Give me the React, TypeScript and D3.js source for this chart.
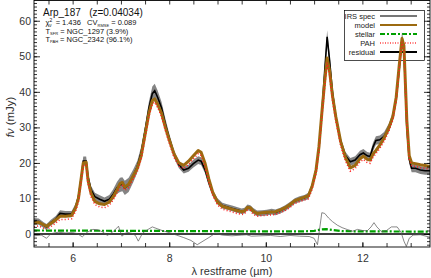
import React, { useEffect, useRef } from 'react';
import * as d3 from 'd3';

// wavelengths (micron) of the IRS spectrum and the model
const wave = [5.2, 5.3, 5.4, 5.46, 5.55, 5.65, 5.74, 5.85, 5.98, 6.06, 6.12, 6.18, 6.22, 6.28, 6.32, 6.38, 6.46, 6.56, 6.66, 6.76,
  6.84, 6.92, 6.98, 7.03, 7.08, 7.16, 7.26, 7.34, 7.42, 7.5, 7.58, 7.65, 7.7, 7.76, 7.84, 7.92, 8.0, 8.1, 8.2, 8.3,
  8.4, 8.5, 8.6, 8.66, 8.74, 8.82, 8.9, 9.0, 9.1, 9.2, 9.3, 9.4, 9.5, 9.56, 9.62, 9.68, 9.74, 9.82, 9.92, 10.02,
  10.12, 10.2, 10.3, 10.4, 10.5, 10.6, 10.7, 10.8, 10.88, 10.96, 11.04, 11.1, 11.16, 11.22, 11.27, 11.32, 11.38, 11.45, 11.55, 11.65,
  11.75, 11.85, 11.95, 12.02, 12.1, 12.16, 12.22, 12.28, 12.36, 12.45, 12.55, 12.63, 12.7, 12.76, 12.82, 12.86, 12.92, 12.97, 13.02, 13.1,
  13.2, 13.3, 13.4];
const irsSpec = [3.6, 3.5, 2.5, 2.0, 3.2, 4.2, 5.8, 5.6, 5.6, 7.5, 10.5, 16, 20.5, 20.5, 16, 12.5, 10.5, 9.8, 9.2, 9.8,
  11.2, 13, 13.8, 14.0, 13.0, 13.8, 16.5, 19, 23, 29, 35.5, 39.5, 40.3, 38.5, 35.5, 31, 27, 22.5, 19.5, 18,
  18.5, 19.8, 20.8, 20.5, 18.2, 14.5, 11.5, 9.2, 8.0, 7.6, 7.2, 6.8, 6.4, 6.6, 7.5, 7.3, 6.5, 5.8, 5.9, 6.0,
  6.3, 6.1, 6.6, 7.3, 8.2, 9.3, 9.8, 10.2, 10.7, 13.5, 18, 24, 34, 46, 55.5, 49, 40, 33, 26, 22,
  20.3, 20.8, 22.3, 22.8, 22.0, 21.8, 24.5, 26.3, 26.5, 27.5, 30.0, 33.0, 38, 46, 55, 52, 30, 21, 18.5, 18.5,
  18.0, 17.8, 17.8];
const irsErr = [0.9, 0.9, 0.8, 0.8, 0.8, 0.9, 0.9, 0.9, 0.9, 1.0, 1.0, 1.2, 1.3, 1.3, 1.2, 1.1, 1.1, 1.1, 1.1, 1.2,
  1.4, 1.7, 2.0, 2.0, 2.0, 2.0, 1.8, 1.6, 1.6, 1.7, 1.8, 2.0, 2.0, 1.9, 1.7, 1.5, 1.3, 1.1, 1.0, 1.0,
  1.0, 1.1, 1.1, 1.1, 1.0, 1.0, 0.9, 0.9, 0.8, 0.8, 0.8, 0.8, 0.8, 0.8, 0.8, 0.8, 0.8, 0.8, 0.8, 0.8,
  0.8, 0.8, 0.8, 0.8, 0.8, 0.8, 0.8, 0.8, 0.9, 0.9, 1.0, 1.1, 1.3, 1.6, 1.8, 1.6, 1.4, 1.2, 1.1, 1.1,
  1.1, 1.1, 1.1, 1.1, 1.1, 1.1, 1.2, 1.2, 1.2, 1.2, 1.2, 1.3, 1.4, 1.6, 1.8, 1.7, 1.3, 1.2, 1.1, 1.1,
  1.1, 1.1, 1.1];
const model = [3.0, 3.3, 2.6, 2.2, 3.0, 4.0, 5.0, 5.0, 5.2, 7.3, 10.0, 16, 20.0, 20.2, 15, 11.5, 9.2, 8.5, 8.3, 9.0,
  10.5, 12.5, 14.2, 14.5, 13.2, 14.0, 16.5, 18.5, 22, 28, 34, 37.5, 38, 36.5, 34, 30, 26.5, 22.5, 20, 19.3,
  20.5, 22, 23.5, 23, 20, 15.5, 11.8, 9.0, 7.8, 7.4, 7.0, 6.6, 6.3, 6.5, 7.5, 7.4, 6.4, 5.8, 6.0, 6.1,
  6.2, 6.3, 6.8, 7.4, 8.3, 9.4, 9.9, 10.4, 10.7, 13.5, 18, 24.5, 34, 43, 49.5, 46, 39, 33, 26, 21.5,
  18.6, 19.3, 21.2, 21.9, 21.0, 20.8, 22.5, 23.5, 25.0, 27.0, 30.0, 33.0, 38.5, 47, 55, 53, 32, 22, 20, 19.8,
  19.5, 19.3, 19.0];
const pah = [2.0, 2.3, 1.6, 1.2, 2.1, 3.1, 4.1, 4.1, 4.3, 6.4, 9.1, 15.1, 19.1, 19.3, 14.1, 10.6, 8.3, 7.6, 7.4, 8.1,
  9.6, 11.6, 13.3, 13.6, 12.3, 13.1, 15.6, 17.6, 21.1, 27.1, 33.1, 36.6, 37.1, 35.6, 33.1, 29.1, 25.6, 21.6, 19.1, 18.4,
  19.6, 21.1, 22.6, 22.1, 19.1, 14.6, 10.9, 8.2, 7.0, 6.6, 6.2, 5.8, 5.5, 5.7, 6.7, 6.6, 5.6, 5.0, 5.2, 5.3,
  5.4, 5.5, 6.0, 6.6, 7.5, 8.6, 9.1, 9.6, 9.9, 12.6, 17.0, 23.4, 32.8, 41.7, 48.2, 44.7, 37.7, 31.8, 24.9, 20.5,
  17.7, 18.4, 20.3, 21.0, 20.1, 19.9, 21.6, 22.6, 24.1, 26.1, 29.1, 32.1, 37.6, 46.1, 54.1, 52.1, 31.1, 21.1, 19.2, 19.0,
  18.7, 18.5, 18.2];

const stelWave = [5.2, 6.0, 7.0, 8.0, 9.0, 10.0, 10.8, 11.0, 11.15, 11.25, 11.4, 11.6, 12.0, 13.0, 13.4];
const stellar = [1.0, 0.95, 0.9, 0.85, 0.8, 0.75, 0.75, 0.9, 1.3, 1.4, 1.1, 0.8, 0.75, 0.7, 0.7];

const resWave = [5.2, 5.35, 5.46, 5.55, 5.7, 5.85, 6.0, 6.1, 6.2, 6.3, 6.42, 6.52, 6.62, 6.72, 6.85, 6.95, 7.02, 7.12, 7.22, 7.3,
  7.36, 7.45, 7.55, 7.65, 7.75, 7.85, 7.95, 8.05, 8.15, 8.3, 8.45, 8.58, 8.7, 8.82, 8.95, 9.1, 9.3, 9.5, 9.6, 9.7,
  9.9, 10.1, 10.3, 10.5, 10.7, 10.9, 11.0, 11.07, 11.12, 11.16, 11.22, 11.3, 11.38, 11.48, 11.58, 11.7, 11.8, 11.9, 12.0, 12.1,
  12.18, 12.24, 12.3, 12.4, 12.5, 12.6, 12.72, 12.8, 12.86, 12.91, 12.97, 13.05, 13.2, 13.4];
const residual = [-0.5, -0.3, -1.2, 0.1, 0.5, 0.3, 0.4, 0.1, -0.8, 0.5, 1.3, 1.2, 0.6, -0.4, 0.8, 2.2, -0.6, 0.5, 0.2, -0.4,
  -2.0, 0.3, 1.2, 2.0, 1.5, 1.0, 0.6, 0.2, -0.3, -1.0, -1.8, -3.0, -2.0, -1.0, 0.2, -0.3, -0.5, -0.3, -0.2, -0.6,
  -0.5, -0.4, -0.7, -0.4, -0.6, -0.7, -1.2, -3.0, 2.0, 6.0, 5.8, 4.5, 3.5, 2.5, 1.8, 1.2, 0.8, 1.3, 1.0, 0.9,
  2.0, 3.2, 2.0, 0.6, 1.0, 2.0, 2.0, 0.5, -2.0, -3.5, -1.2, -0.3, -0.2, -0.9];

const xMajor = [6, 8, 10, 12];
const xMinor = d3.range(5.5, 13.5, 0.5);
const yMajor = [0, 10, 20, 30, 40, 50, 60];
const yMinor = d3.range(-3, 66, 1);

const legendItems = ['IRS spec', 'model', 'stellar', 'PAH', 'residual'];

const W = 431, H = 278;
const left = 34, right = 430, top = 0.5, bottom = 247;
const sp = '\u00a0';

function Chart() {
  const ref = useRef<SVGSVGElement>(null);

  useEffect(() => {
    const svg = d3.select(ref.current);
    svg.selectAll('*').remove();
    const font = 'Liberation Sans, Arial, sans-serif';

    const x = d3.scaleLinear().domain([5.2, 13.4]).range([left, right]);
    const y = d3.scaleLinear().domain([-3.65, 65.7]).range([bottom, top]);

    // legend (drawn under the curves, like the original)
    const lg = svg.append('g');
    lg.append('rect').attr('x', 344.5).attr('y', 10.5).attr('width', 80).attr('height', 50)
      .attr('fill', 'none').attr('stroke', '#000').attr('stroke-width', 0.7);
    const styles = [
      { stroke: '#777', w: 2, dash: null },
      { stroke: '#9c6a10', w: 2, dash: null },
      { stroke: '#00a000', w: 2, dash: '5,2,2,2' },
      { stroke: '#ff4040', w: 1.5, dash: '1,1.5' },
      { stroke: '#000', w: 2, dash: null },
    ];
    legendItems.forEach((name, i) => {
      const cy = 16 + i * 9;
      lg.append('text').attr('x', 375).attr('y', cy).attr('dy', '0.35em').attr('text-anchor', 'end')
        .attr('font-family', font).attr('font-size', 7.5).attr('fill', '#222').text(name);
      lg.append('line').attr('x1', 380).attr('x2', 417).attr('y1', cy).attr('y2', cy)
        .attr('stroke', styles[i].stroke).attr('stroke-width', styles[i].w)
        .attr('stroke-dasharray', styles[i].dash);
    });

    svg.append('defs').append('clipPath').attr('id', 'plotclip')
      .append('rect').attr('x', left).attr('y', top).attr('width', right - left).attr('height', bottom - top);

    const g = svg.append('g').attr('clip-path', 'url(#plotclip)');

    const idx = d3.range(wave.length);
    const band = d3.area<number>()
      .x(i => x(wave[i]))
      .y0(i => y(irsSpec[i] - irsErr[i]))
      .y1(i => y(irsSpec[i] + irsErr[i]));
    g.append('path').attr('d', band(idx)).attr('fill', '#777').attr('opacity', 0.9);

    const line = (xs: number[], ys: number[]) =>
      d3.line<number>().x(i => x(xs[i])).y(i => y(ys[i]))(d3.range(xs.length));

    g.append('path').attr('d', line(wave, irsSpec)).attr('fill', 'none')
      .attr('stroke', '#000').attr('stroke-width', 1.6);
    g.append('path').attr('d', line(wave, model)).attr('fill', 'none')
      .attr('stroke', '#9c6a10').attr('stroke-width', 3).attr('stroke-linejoin', 'round');
    g.append('path').attr('d', line(wave, pah)).attr('fill', 'none')
      .attr('stroke', '#ff2020').attr('stroke-width', 1.6).attr('stroke-dasharray', '1,2.2');
    g.append('path').attr('d', line(stelWave, stellar)).attr('fill', 'none')
      .attr('stroke', '#00a000').attr('stroke-width', 2.2).attr('stroke-dasharray', '6,2,2,2');
    g.append('line').attr('x1', left).attr('x2', right).attr('y1', y(0)).attr('y2', y(0))
      .attr('stroke', '#000').attr('stroke-width', 1.6);
    g.append('path').attr('d', line(resWave, residual)).attr('fill', 'none')
      .attr('stroke', '#555').attr('stroke-width', 0.7);

    // axes
    const tickStyle = (sel: any) => {
      sel.select('.domain').remove();
      sel.selectAll('line').attr('stroke', '#000').attr('stroke-width', 0.8);
      sel.selectAll('text').attr('fill', '#333').attr('font-size', 10.5).attr('font-family', font);
    };
    svg.append('g').attr('transform', `translate(0,${bottom})`)
      .call(d3.axisBottom(x).tickValues(xMinor).tickSize(-4).tickFormat(() => '')).call(tickStyle);
    svg.append('g').attr('transform', `translate(0,${bottom})`)
      .call(d3.axisBottom(x).tickValues(xMajor).tickSize(-5).tickPadding(8).tickFormat(d3.format('d'))).call(tickStyle);
    svg.append('g').attr('transform', `translate(0,${top})`)
      .call(d3.axisTop(x).tickValues(xMinor).tickSize(-4).tickFormat(() => '')).call(tickStyle);
    svg.append('g').attr('transform', `translate(${left},0)`)
      .call(d3.axisLeft(y).tickValues(yMinor).tickSize(-3).tickFormat(() => '')).call(tickStyle);
    svg.append('g').attr('transform', `translate(${left},0)`)
      .call(d3.axisLeft(y).tickValues(yMajor).tickSize(-6).tickPadding(3).tickFormat(d3.format('d'))).call(tickStyle);
    svg.append('g').attr('transform', `translate(${right},0)`)
      .call(d3.axisRight(y).tickValues(yMinor).tickSize(-3).tickFormat(() => '')).call(tickStyle);
    svg.append('g').attr('transform', `translate(${right},0)`)
      .call(d3.axisRight(y).tickValues(yMajor).tickSize(-6).tickFormat(() => '')).call(tickStyle);

    svg.append('rect').attr('x', left).attr('y', top).attr('width', right - left).attr('height', bottom - top)
      .attr('fill', 'none').attr('stroke', '#000').attr('stroke-width', 0.9);

    // axis titles
    svg.append('text').attr('x', 232).attr('y', 275).attr('text-anchor', 'middle')
      .attr('font-family', font).attr('font-size', 11).attr('fill', '#333')
      .text('λ restframe (µm)');
    const yl = svg.append('text').attr('transform', 'translate(14,117) rotate(-90)').attr('text-anchor', 'middle')
      .attr('font-family', font).attr('font-size', 11.5).attr('fill', '#333');
    yl.append('tspan').attr('font-style', 'italic').text('fν');
    yl.append('tspan').text(' (mJy)');

    // annotations
    const ann = svg.append('g').attr('font-family', font).attr('fill', '#111');
    ann.append('text').attr('x', 43).attr('y', 16).attr('font-size', 10)
      .text(`Arp_187${sp}${sp}${sp}(z=0.04034)`);
    const t1 = ann.append('text').attr('x', 45.5).attr('y', 25).attr('font-size', 7.5);
    t1.append('tspan').text('χ');
    t1.append('tspan').attr('font-size', 5).attr('dy', -3).text('2');
    t1.append('tspan').attr('font-size', 4.5).attr('dx', -3).attr('dy', 4.5).text('ν');
    t1.append('tspan').attr('dy', -1.5).text(`${sp}${sp}=${sp}1.436${sp}${sp}${sp}CV`);
    t1.append('tspan').attr('font-size', 4).attr('dy', 1.5).text('RMSE');
    t1.append('tspan').attr('dy', -1.5).text(`${sp}=${sp}0.089`);
    const t2 = ann.append('text').attr('x', 45.5).attr('y', 33.5).attr('font-size', 7.5);
    t2.append('tspan').text('T');
    t2.append('tspan').attr('font-size', 4).attr('dy', 1.5).text('SFR');
    t2.append('tspan').attr('dy', -1.5).text(`${sp}=${sp}NGC_1297${sp}(3.9%)`);
    const t3 = ann.append('text').attr('x', 45.5).attr('y', 41.5).attr('font-size', 7.5);
    t3.append('tspan').text('T');
    t3.append('tspan').attr('font-size', 4).attr('dy', 1.5).text('PAH');
    t3.append('tspan').attr('dy', -1.5).text(`${sp}=${sp}NGC_2342${sp}(96.1%)`);
  }, []);

  return <svg ref={ref} width={W} height={H} style={{ position: 'absolute', left: 0, top: 0, background: '#fff' }} />;
}

export default function App() {
  return <Chart />;
}
